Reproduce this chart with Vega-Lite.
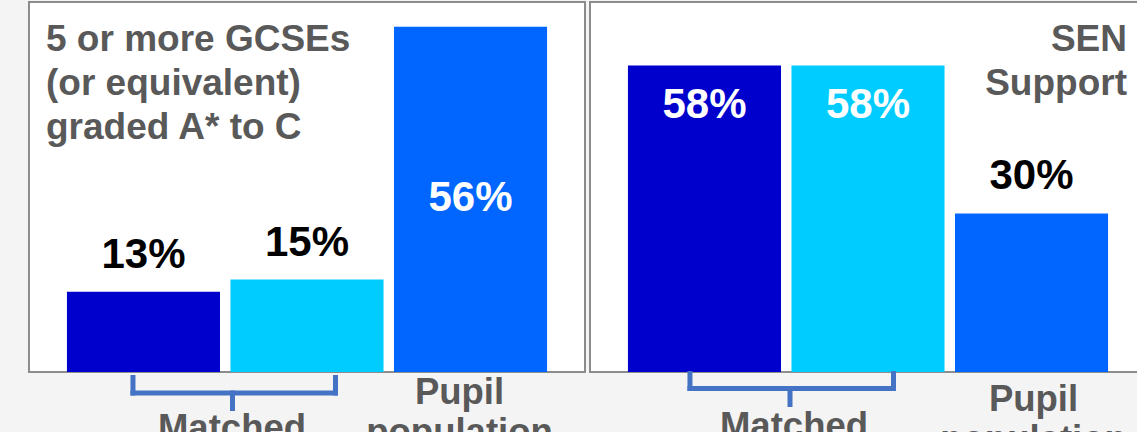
{
  "$schema": "https://vega.github.io/schema/vega-lite/v6.json",
  "background": "#f4f4f4",
  "padding": {"left": 28, "top": 1, "right": 0, "bottom": 0},
  "autosize": {"type": "pad"},
  "spacing": 3,
  "datasets": {
    "gcse": [
      {"series": "Matched group 1", "value": 0.13},
      {"series": "Matched group 2", "value": 0.15},
      {"series": "Pupil population", "value": 0.56}
    ],
    "sen": [
      {"series": "Matched group 1", "value": 0.58},
      {"series": "Matched group 2", "value": 0.58},
      {"series": "Pupil population", "value": 0.30}
    ]
  },
  "hconcat": [
    {
      "width": 556,
      "height": 370,
      "title": {"text": ["5 or more GCSEs", "(or equivalent)", "graded A* to C"], "anchor": "start", "frame": "group", "offset": -145, "dx": 17},
      "encoding": {
        "x": {"field": "series", "type": "nominal", "scale": {"domain": ["Matched group 1", "Matched group 2", "Pupil population"], "paddingInner": 0.064, "paddingOuter": 0.232}, "axis": null},
        "y": {"field": "value", "type": "quantitative", "scale": {"domain": [0, 0.6]}, "axis": null}
      },
      "layer": [
        {
          "data": {"name": "gcse"},
          "mark": {"type": "bar"},
          "encoding": {
            "color": {"field": "series", "type": "nominal", "scale": {"domain": ["Matched group 1", "Matched group 2", "Pupil population"], "range": ["#0000cc", "#00ccff", "#0066ff"]}, "legend": null}
          }
        },
        {
          "data": {"name": "gcse"},
          "transform": [{"filter": "datum.value < 0.4"}],
          "mark": {"type": "text", "baseline": "alphabetic", "dy": -24, "fontSize": 42, "fontWeight": "bold", "color": "#000000"},
          "encoding": {"text": {"field": "value", "type": "quantitative", "format": ".0%"}}
        },
        {
          "data": {"name": "gcse"},
          "transform": [{"filter": "datum.value >= 0.4"}],
          "mark": {"type": "text", "baseline": "alphabetic", "dy": 184, "fontSize": 42, "fontWeight": "bold", "color": "#ffffff"},
          "encoding": {"text": {"field": "value", "type": "quantitative", "format": ".0%"}}
        },
        {
          "data": {"name": "gcse"},
          "transform": [{"filter": "datum.series == 'Matched group 1'"}],
          "mark": {"type": "rule", "color": "#4472c4", "strokeWidth": 5, "strokeCap": "square", "xOffset": -10.5, "yOffset": 5.5, "y2Offset": 21},
          "encoding": {"y": {"datum": 0, "type": "quantitative", "axis": null}, "y2": {"datum": 0}}
        },
        {
          "data": {"name": "gcse"},
          "transform": [{"filter": "datum.series == 'Matched group 2'"}],
          "mark": {"type": "rule", "color": "#4472c4", "strokeWidth": 5, "strokeCap": "square", "xOffset": 28.5, "yOffset": 5.5, "y2Offset": 21},
          "encoding": {"y": {"datum": 0, "type": "quantitative", "axis": null}, "y2": {"datum": 0}}
        },
        {
          "data": {"name": "gcse"},
          "transform": [{"filter": "datum.series == 'Matched group 1'"}],
          "mark": {"type": "rule", "color": "#4472c4", "strokeWidth": 5, "strokeCap": "square", "xOffset": -10.5, "x2Offset": 28.5, "yOffset": 21},
          "encoding": {"x2": {"datum": "Matched group 2"}, "y": {"datum": 0, "type": "quantitative", "axis": null}}
        },
        {
          "data": {"name": "gcse"},
          "transform": [{"filter": "datum.series == 'Matched group 2'"}],
          "mark": {"type": "rule", "color": "#4472c4", "strokeWidth": 5, "strokeCap": "square", "xOffset": -74.5, "yOffset": 21, "y2Offset": 36.5},
          "encoding": {"y": {"datum": 0, "type": "quantitative", "axis": null}, "y2": {"datum": 0}}
        },
        {
          "data": {"name": "gcse"},
          "transform": [{"filter": "datum.series == 'Matched group 2'"}],
          "mark": {"type": "text", "text": "Matched", "baseline": "alphabetic", "xOffset": -75, "dy": 68, "fontSize": 36.5, "fontWeight": "bold", "color": "#595959"},
          "encoding": {"y": {"datum": 0, "type": "quantitative", "axis": null}}
        },
        {
          "data": {"name": "gcse"},
          "transform": [{"filter": "datum.series == 'Pupil population'"}],
          "mark": {"type": "text", "text": ["Pupil", "population"], "lineHeight": 40, "baseline": "alphabetic", "dx": -11, "dy": 32, "fontSize": 36.5, "fontWeight": "bold", "color": "#595959"},
          "encoding": {"y": {"datum": 0, "type": "quantitative", "axis": null}}
        }
      ]
    },
    {
      "width": 556,
      "height": 370,
      "title": {"text": ["SEN", "Support"], "anchor": "end", "frame": "group", "offset": -101, "dx": -19},
      "encoding": {
        "x": {"field": "series", "type": "nominal", "scale": {"domain": ["Matched group 1", "Matched group 2", "Pupil population"], "paddingInner": 0.064, "paddingOuter": 0.232}, "axis": null},
        "y": {"field": "value", "type": "quantitative", "scale": {"domain": [0, 0.7]}, "axis": null}
      },
      "layer": [
        {
          "data": {"name": "sen"},
          "mark": {"type": "bar"},
          "encoding": {
            "color": {"field": "series", "type": "nominal", "scale": {"domain": ["Matched group 1", "Matched group 2", "Pupil population"], "range": ["#0000cc", "#00ccff", "#0066ff"]}, "legend": null}
          }
        },
        {
          "data": {"name": "sen"},
          "transform": [{"filter": "datum.value < 0.4"}],
          "mark": {"type": "text", "baseline": "alphabetic", "dy": -24, "fontSize": 42, "fontWeight": "bold", "color": "#000000"},
          "encoding": {"text": {"field": "value", "type": "quantitative", "format": ".0%"}}
        },
        {
          "data": {"name": "sen"},
          "transform": [{"filter": "datum.value >= 0.4"}],
          "mark": {"type": "text", "baseline": "alphabetic", "dy": 53, "fontSize": 42, "fontWeight": "bold", "color": "#ffffff"},
          "encoding": {"text": {"field": "value", "type": "quantitative", "format": ".0%"}}
        },
        {
          "data": {"name": "sen"},
          "transform": [{"filter": "datum.series == 'Matched group 1'"}],
          "mark": {"type": "rule", "color": "#4472c4", "strokeWidth": 5, "strokeCap": "square", "xOffset": -14.5, "yOffset": 1.5, "y2Offset": 16.5},
          "encoding": {"y": {"datum": 0, "type": "quantitative", "axis": null}, "y2": {"datum": 0}}
        },
        {
          "data": {"name": "sen"},
          "transform": [{"filter": "datum.series == 'Matched group 2'"}],
          "mark": {"type": "rule", "color": "#4472c4", "strokeWidth": 5, "strokeCap": "square", "xOffset": 25.5, "yOffset": 1.5, "y2Offset": 16.5},
          "encoding": {"y": {"datum": 0, "type": "quantitative", "axis": null}, "y2": {"datum": 0}}
        },
        {
          "data": {"name": "sen"},
          "transform": [{"filter": "datum.series == 'Matched group 1'"}],
          "mark": {"type": "rule", "color": "#4472c4", "strokeWidth": 5, "strokeCap": "square", "xOffset": -14.5, "x2Offset": 25.5, "yOffset": 16.5},
          "encoding": {"x2": {"datum": "Matched group 2"}, "y": {"datum": 0, "type": "quantitative", "axis": null}}
        },
        {
          "data": {"name": "sen"},
          "transform": [{"filter": "datum.series == 'Matched group 2'"}],
          "mark": {"type": "rule", "color": "#4472c4", "strokeWidth": 5, "strokeCap": "square", "xOffset": -78, "yOffset": 16.5, "y2Offset": 32.5},
          "encoding": {"y": {"datum": 0, "type": "quantitative", "axis": null}, "y2": {"datum": 0}}
        },
        {
          "data": {"name": "sen"},
          "transform": [{"filter": "datum.series == 'Matched group 2'"}],
          "mark": {"type": "text", "text": "Matched", "baseline": "alphabetic", "xOffset": -74, "dy": 66, "fontSize": 36.5, "fontWeight": "bold", "color": "#595959"},
          "encoding": {"y": {"datum": 0, "type": "quantitative", "axis": null}}
        },
        {
          "data": {"name": "sen"},
          "transform": [{"filter": "datum.series == 'Pupil population'"}],
          "mark": {"type": "text", "text": ["Pupil", "population"], "lineHeight": 40, "baseline": "alphabetic", "dx": 2, "dy": 39, "fontSize": 36.5, "fontWeight": "bold", "color": "#595959"},
          "encoding": {"y": {"datum": 0, "type": "quantitative", "axis": null}}
        }
      ]
    }
  ],
  "config": {
    "font": "Liberation Sans",
    "view": {"stroke": "#8c8c8c", "strokeWidth": 2, "fill": "#ffffff"},
    "title": {"font": "Liberation Sans", "fontSize": 37, "fontWeight": "bold", "color": "#595959", "lineHeight": 44},
    "text": {"font": "Liberation Sans"}
  }
}
